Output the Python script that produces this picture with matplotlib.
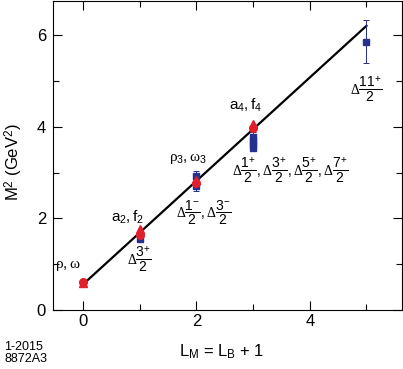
import numpy as np
import matplotlib
matplotlib.use('Agg')
from matplotlib import pyplot as plt
from matplotlib.ticker import MultipleLocator

plt.rcParams['font.family'] = ['Liberation Sans', 'DejaVu Sans']
plt.rcParams['mathtext.fontset'] = 'custom'
plt.rcParams['mathtext.rm'] = 'Liberation Sans'
plt.rcParams['mathtext.it'] = 'Liberation Serif'
plt.rcParams['mathtext.cal'] = 'Liberation Serif'

# mesons (red): triangles and circles
tri_x = [0, 1, 2, 3]
tri_y = [0.60, 1.76, 2.85, 4.07]
circ_x = [0, 1, 2, 3]
circ_y = [0.61, 1.63, 2.78, 3.98]

# baryons (blue squares with errors)
bar_x = [1, 2, 2, 3, 3, 3, 3, 5]
bar_y = [1.54, 2.70, 2.92, 3.55, 3.62, 3.70, 3.78, 5.86]
bar_err = [0.02, 0.10, 0.12, 0.08, 0.08, 0.08, 0.10, 0.47]

# fitted trajectory
fit_x = [0, 5]
fit_y = [0.56, 6.21]

# meson labels
mes_text = [r'$\rho,\omega$', r'$\mathrm{a}_2,\mathrm{f}_2$',
            r'$\rho_3,\omega_3$', r'$\mathrm{a}_4,\mathrm{f}_4$']
mes_x = [-0.26, 0.79, 1.85, 2.87]
mes_y = [0.98, 2.03, 3.31, 4.46]

# baryon labels
bar_text = [r'$\mathcal{\Delta}\dfrac{3^{+}}{2}$',
            r'$\mathcal{\Delta}\dfrac{1^{-}}{2},\mathcal{\Delta}\dfrac{3^{-}}{2}$',
            r'$\mathcal{\Delta}\dfrac{1^{+}}{2},\mathcal{\Delta}\dfrac{3^{+}}{2},\mathcal{\Delta}\dfrac{5^{+}}{2},\mathcal{\Delta}\dfrac{7^{+}}{2}$',
            r'$\mathcal{\Delta}\dfrac{11^{+}}{2}$']
bl_x = [0.99, 2.13, 3.65, 5.0]
bl_y = [1.12, 2.12, 3.05, 4.83]

red = '#e0202a'
blue = '#25308f'

fig = plt.figure(figsize=(4.03, 3.69), dpi=100)
ax = fig.add_axes([0.1315, 0.16, 0.865, 0.837])

ax.plot(fit_x, fit_y, color='k', linewidth=1.6, zorder=2)
ax.errorbar(bar_x, bar_y, yerr=bar_err, fmt='s', color=blue, markersize=4.5,
            elinewidth=0.7, capsize=2, capthick=0.7, zorder=3)
ax.plot(circ_x, circ_y, 'o', color=red, markersize=5.5, zorder=4)
ax.plot(tri_x, tri_y, '^', color=red, markersize=5.5, zorder=4)

for t, x, y in zip(mes_text, mes_x, mes_y):
    ax.text(x, y, t, fontsize=11, ha='center', va='center')
for t, x, y in zip(bar_text, bl_x, bl_y):
    ax.text(x, y, t, fontsize=10, ha='center', va='center')

ax.set_xlim(-0.53, 5.62)
ax.set_ylim(0, 6.75)
ax.xaxis.set_major_locator(MultipleLocator(2))
ax.xaxis.set_minor_locator(MultipleLocator(1))
ax.yaxis.set_major_locator(MultipleLocator(2))
ax.yaxis.set_minor_locator(MultipleLocator(1))
ax.tick_params(which='both', direction='in', top=True, right=True, width=0.8)
ax.tick_params(which='major', length=6.5, labelsize=12)
ax.tick_params(which='minor', length=4.3)
ax.tick_params(axis='x', pad=3)
ax.tick_params(axis='y', pad=5)
for s in ax.spines.values():
    s.set_linewidth(0.8)

ax.set_xlabel(r'L$_\mathrm{M}$ = L$_\mathrm{B}$ + 1', fontsize=12)
ax.set_ylabel(r'M$^2$ (GeV$^2$)', fontsize=12)
ax.xaxis.set_label_coords(0.485, -0.105)
ax.yaxis.set_label_coords(-0.08, 0.48)

fig.text(0.01, 0.01, '1-2015\n8872A3', fontsize=9, ha='left', va='bottom',
         linespacing=1.0)

fig.savefig('out.png', dpi=100)
